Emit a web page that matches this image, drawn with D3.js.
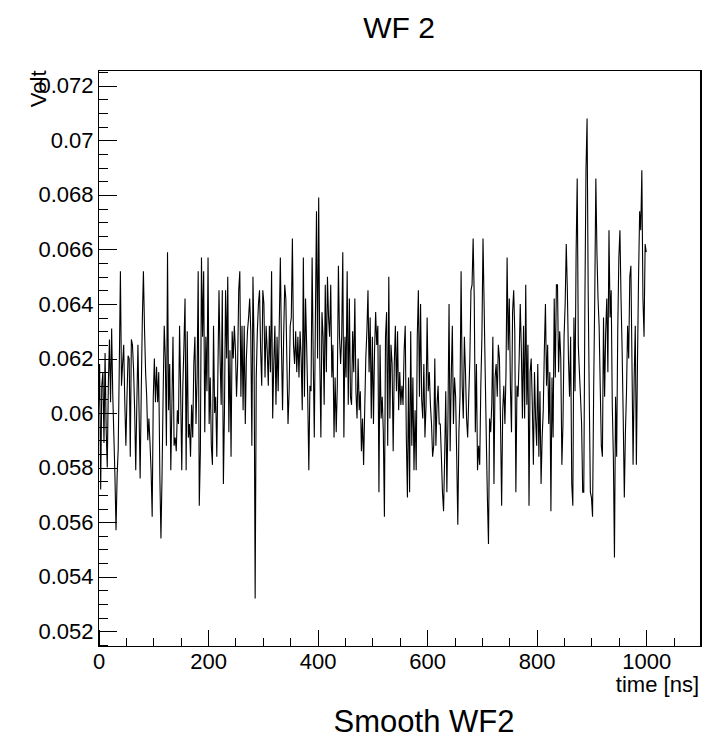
<!doctype html>
<html>
<head>
    <meta charset="UTF-8">
    <title>WF 2</title>
    <script src="https://d3js.org/d3.v7.min.js"></script>
    <style>
        body { margin: 0; background: #fff; }
        text { font-family: "Liberation Sans", Arial, Helvetica, sans-serif; fill: #000; }
    </style>
</head>
<body>
    <script>
        // sample step of the waveform, ns
        var dt = 2;

        // smoothed waveform of channel 2, in mV, one value every 2 ns from 0 to 1000 ns
        var wf2_mV = [
            60.1, 61.8, 57.2, 61.0, 61.5, 58.9, 62.2, 59.4, 58.0, 61.1, 62.7, 60.4, 63.1, 60.7, 59.2, 57.7, 55.7, 57.7, 58.7, 61.8,
            65.2, 61.0, 61.8, 62.5, 60.4, 58.8, 60.6, 62.1, 62.0, 58.4, 62.7, 62.5, 61.6, 60.1, 57.9, 60.4, 62.5, 60.1, 57.6, 60.7,
            63.4, 65.2, 63.1, 61.5, 60.6, 59.0, 59.8, 58.9, 57.9, 56.2, 60.6, 62.0, 60.4, 61.7, 60.4, 61.5, 57.7, 55.4, 57.7, 60.7,
            63.2, 62.0, 58.8,
            65.9, 60.1, 61.8, 57.9, 60.3, 62.8, 58.8, 59.1, 58.6, 60.1, 59.6, 63.2, 60.8, 57.9, 61.0, 62.5, 64.2, 57.9, 63.0, 59.1,
            59.6, 58.4, 60.3, 59.1, 61.8, 62.8, 59.6, 61.3, 65.2, 56.6, 58.6, 65.7, 62.8, 65.2, 59.3, 62.8, 60.8, 65.7, 59.6, 61.3,
            58.8, 58.1, 63.2, 60.0, 60.6, 58.4, 61.5, 64.5, 62.0, 60.3, 64.5, 57.4, 60.1, 64.5, 62.0, 65.0, 59.3, 62.3, 58.4,
            63.0, 62.0, 63.2, 62.3, 60.6, 61.8, 64.5, 65.2, 60.6, 63.2, 60.1, 63.2, 59.6, 62.0, 63.0, 63.5, 64.2, 63.0, 58.8, 65.0,
            62.5, 53.2, 61.3, 63.0, 64.0, 64.5, 62.3, 61.0, 64.5, 64.0, 61.3, 63.2, 62.3, 61.0, 63.2, 61.5, 65.2, 59.8, 61.8, 63.2,
            60.3, 62.8, 60.8, 63.2, 65.7, 62.5, 60.1, 62.8, 64.7, 64.2, 61.8, 59.6, 60.8, 63.2, 63.5, 66.4, 62.5, 61.8, 63.0,
            61.5, 62.8, 61.3, 63.0, 62.0, 60.1, 65.7, 60.6, 64.2, 62.5, 60.6, 57.9, 61.0, 60.8, 65.7, 62.0, 59.1, 63.5, 67.4, 62.0,
            67.9, 62.0, 59.1, 63.7, 62.8, 60.3, 64.7, 61.5, 65.0, 63.5, 62.8, 64.7, 61.3, 62.5, 59.1, 61.3, 59.3, 61.0, 65.4, 62.8,
            61.8, 62.8, 65.9, 59.1, 62.8, 61.3, 65.2, 60.3, 64.2, 60.6, 60.3, 63.0, 61.5, 64.2, 60.8, 59.8, 62.0, 60.1, 60.8, 58.6,
            59.8, 58.1, 60.1, 62.0, 63.0, 64.5, 61.5, 63.5, 59.8, 62.8, 59.6, 62.3, 63.7, 62.5, 63.2, 57.1, 62.5, 59.8, 60.6, 59.3,
            56.2, 62.8, 63.7, 58.8, 65.0, 59.8, 62.5, 61.8, 58.6, 61.8, 63.2, 60.8, 63.0, 60.1, 61.5, 60.3, 61.0, 60.3, 62.3, 63.2,
            59.1, 56.9, 61.3, 57.1, 63.0, 58.8, 61.3, 57.9, 60.1, 57.9, 62.8, 64.5, 60.6, 64.0, 60.5, 59.8, 61.8, 59.1, 60.3,
            63.5, 60.8, 61.5, 60.3, 59.6, 58.4, 58.8, 62.0, 58.8, 60.3, 61.0, 59.6, 59.6, 58.4, 57.1, 56.4, 58.4, 60.8, 57.1, 59.8,
            64.0, 58.6, 61.3, 63.2, 59.6, 61.3, 60.6, 58.4, 55.9, 59.3, 60.6, 65.2, 61.0, 59.8, 62.8, 61.5, 59.8, 59.1, 60.6, 62.0,
            64.5, 64.7, 66.4, 64.2, 59.3, 61.8, 57.9, 58.8, 58.1, 61.0, 62.8, 66.4, 64.0, 61.5, 59.1, 56.9, 55.2, 59.8, 59.3,
            60.3, 62.8, 57.4, 61.3, 61.8, 60.6, 62.5, 62.0, 59.6, 56.6, 60.1, 61.0, 59.6, 61.5, 65.7, 62.3, 64.2, 61.0, 59.3, 63.7,
            64.5, 63.0, 57.1, 61.0, 60.6, 62.0, 64.0, 62.3, 59.8, 63.2, 59.8, 64.7, 60.3, 62.5, 56.6, 61.5, 62.0, 60.3, 58.1, 61.5,
            59.8, 58.8, 61.8, 58.4, 60.8, 57.4, 59.1, 60.1, 62.3, 64.0, 61.0, 62.5, 59.6, 61.5, 56.4, 61.3, 59.1, 64.2, 61.3, 64.7,
            64.7, 61.5, 63.0, 62.0, 58.1, 59.6, 62.8, 64.0, 66.2, 64.5, 62.0, 60.6, 62.8, 57.4, 56.6, 63.5, 60.8, 65.9, 68.6, 62.5,
            61.5, 60.6, 59.6, 57.1, 57.1, 64.0, 68.9, 70.8, 64.5, 60.6, 57.1, 56.9, 56.2, 60.8, 64.2, 68.6, 65.9, 64.2, 63.2, 61.0,
            58.8,
            58.4, 63.5, 60.6, 63.0, 64.2, 61.5, 66.7, 63.5, 64.5, 60.3, 58.4, 54.7, 60.6, 58.4, 63.0, 65.7, 66.7, 64.2, 62.3, 59.8,
            56.9, 59.3, 60.8, 63.2, 62.0, 65.0, 65.4, 61.8, 58.1, 61.3, 63.2, 58.1, 61.8, 65.0, 67.4, 66.7, 68.9, 64.2, 62.8, 66.2,
            65.9
        ];

        var xTicks = [0, 200, 400, 600, 800, 1000];
        var yTicks = [0.052, 0.054, 0.056, 0.058, 0.060, 0.062, 0.064, 0.066, 0.068, 0.070, 0.072];
        var yLabels = ["0.052", "0.054", "0.056", "0.058", "0.06", "0.062", "0.064", "0.066", "0.068", "0.07", "0.072"];

        var W = 727, H = 740;
        var frameL = 98.5, frameR = 701, frameT = 70.5, frameB = 646.5;

        var data = wf2_mV.map(function(v, i) {
            return { t: i * dt, v: v / 1000 };
        });

        // ROOT style range: 10% of the spread added on both sides
        var vmin = d3.min(data, function(d) { return d.v; });
        var vmax = d3.max(data, function(d) { return d.v; });
        var pad = 0.1 * (vmax - vmin);

        var x = d3.scaleLinear().domain([0, 1100]).range([frameL, frameR]);
        var y = d3.scaleLinear().domain([vmin - pad, vmax + pad]).range([frameB, frameT]);

        var svg = d3.select("body")
            .append("svg")
            .attr("width", W)
            .attr("height", H);

        // x axis: major + minor ticks, pointing into the frame
        var xMinor = d3.range(0, 1101, 50).filter(function(t) { return t % 200 != 0; });
        svg.append("g")
            .attr("transform", "translate(0," + frameB + ")")
            .call(d3.axisBottom(x).tickValues(xMinor).tickSize(-8.5).tickSizeOuter(0).tickFormat(""))
            .call(function(g) { g.select(".domain").remove(); });

        var gx = svg.append("g")
            .attr("transform", "translate(0," + frameB + ")")
            .call(d3.axisBottom(x).tickValues(xTicks).tickSize(-17).tickSizeOuter(0).tickPadding(7).tickFormat(d3.format("d")));
        gx.select(".domain").remove();
        gx.selectAll("text").attr("font-size", 22).attr("font-family", null);

        // y axis, minor ticks every 0.0005
        var yDom = y.domain();
        var yMinor = d3.range(103, Math.floor(yDom[1] * 2000) + 1).map(function(k) { return k / 2000; })
            .filter(function(v, k) { return (k + 103) % 4 != 0; });
        svg.append("g")
            .attr("transform", "translate(" + frameL + ",0)")
            .call(d3.axisLeft(y).tickValues(yMinor).tickSize(-9).tickSizeOuter(0).tickFormat(""))
            .call(function(g) { g.select(".domain").remove(); });

        var gy = svg.append("g")
            .attr("transform", "translate(" + frameL + ",0)")
            .call(d3.axisLeft(y).tickValues(yTicks).tickSize(-18).tickSizeOuter(0).tickPadding(5)
                .tickFormat(function(d, i) { return yLabels[i]; }));
        gy.select(".domain").remove();
        gy.selectAll("text").attr("font-size", 22).attr("font-family", null);

        svg.selectAll(".tick line").attr("stroke", "#000").attr("shape-rendering", "crispEdges");

        // waveform
        var line = d3.line()
            .x(function(d) { return x(d.t); })
            .y(function(d) { return y(d.v); });

        svg.append("path")
            .datum(data)
            .attr("d", line)
            .attr("fill", "none")
            .attr("stroke", "#000")
            .attr("stroke-width", 1.1);

        // frame
        svg.append("rect")
            .attr("x", frameL)
            .attr("y", frameT)
            .attr("width", frameR - frameL)
            .attr("height", frameB - frameT)
            .attr("fill", "none")
            .attr("stroke", "#000")
            .attr("stroke-width", 1.2)
            .attr("shape-rendering", "crispEdges");

        // titles
        svg.append("text")
            .attr("x", 399)
            .attr("y", 38)
            .attr("text-anchor", "middle")
            .attr("font-size", 30)
            .text("WF 2");

        svg.append("text")
            .attr("x", frameR - 2)
            .attr("y", 692)
            .attr("text-anchor", "end")
            .attr("font-size", 22)
            .text("time [ns]");

        svg.append("text")
            .attr("transform", "translate(46," + frameT + ") rotate(-90)")
            .attr("text-anchor", "end")
            .attr("font-size", 22)
            .text("Volt");

        svg.append("text")
            .attr("x", 424)
            .attr("y", 732)
            .attr("text-anchor", "middle")
            .attr("font-size", 31)
            .text("Smooth WF2");
    </script>
</body>
</html>
